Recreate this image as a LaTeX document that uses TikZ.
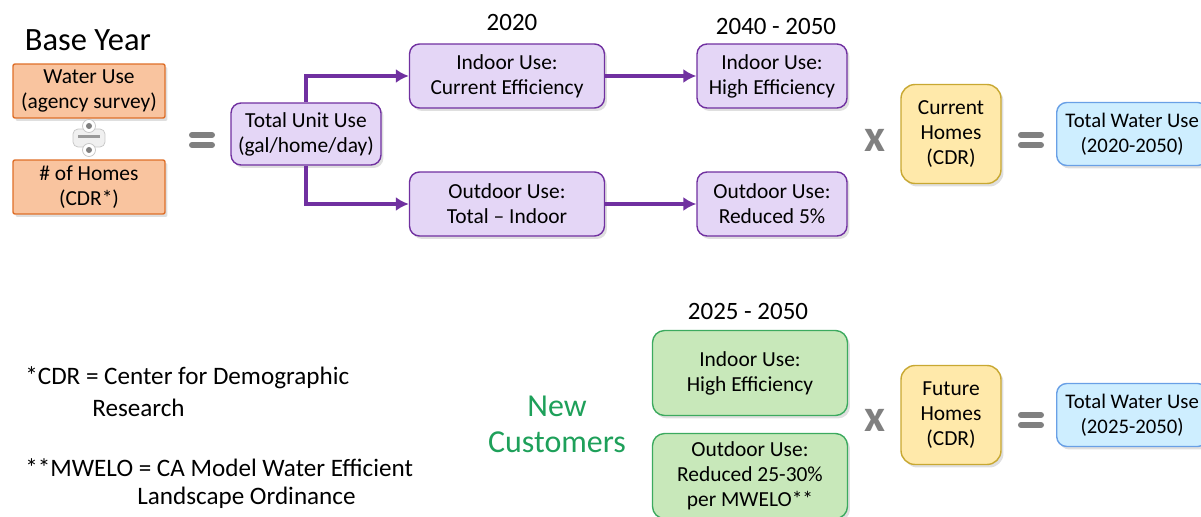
\documentclass[tikz,border=0pt]{standalone}
\usepackage{fontspec}
\setmainfont{Carlito}
\usetikzlibrary{arrows.meta,shadows}
\definecolor{orangefill}{RGB}{249,196,159}
\definecolor{orangeline}{RGB}{222,110,40}
\definecolor{purplefill}{RGB}{228,214,246}
\definecolor{purpleline}{RGB}{112,48,160}
\definecolor{yellowfill}{RGB}{255,233,170}
\definecolor{yellowline}{RGB}{200,168,50}
\definecolor{bluefill}{RGB}{206,238,255}
\definecolor{blueline}{RGB}{105,160,230}
\definecolor{greenfill}{RGB}{200,232,186}
\definecolor{greenline}{RGB}{60,170,95}
\definecolor{greentext}{RGB}{30,160,90}
\definecolor{signgray}{RGB}{128,128,128}
\begin{document}
\begin{tikzpicture}
    [
    x=0.02cm, y=-0.02cm,
    boxtext/.style={align=center,font=\fontsize{12.2}{14.2}\selectfont,inner sep=1pt,
      drop shadow={opacity=0.25,shadow xshift=0.5mm,shadow yshift=-0.6mm}},
    basebox/.style={boxtext,draw=orangeline,fill=orangefill,thick,rounded corners=0.4mm,
      minimum width=30.4mm,minimum height=10.8mm},
    usebox/.style={boxtext,draw=purpleline,fill=purplefill,thick,rounded corners=2mm,
      minimum height=12.8mm},
    homebox/.style={boxtext,draw=yellowline,fill=yellowfill,thick,rounded corners=2.8mm,
      minimum width=20mm,minimum height=19.8mm},
    totalbox/.style={boxtext,font=\fontsize{11.8}{14.2}\selectfont,anchor=west,
      draw=blueline,fill=bluefill,thick,rounded corners=2mm,
      inner xsep=1mm,minimum width=30.2mm,minimum height=12.6mm},
    newbox/.style={boxtext,draw=greenline,fill=greenfill,thick,rounded corners=2.4mm,
      minimum width=39mm,minimum height=17mm},
    yearlabel/.style={font=\fontsize{14.2}{16}\selectfont,inner sep=0pt},
    note/.style={anchor=west,font=\fontsize{14.3}{16}\selectfont,inner sep=0pt},
    times/.style={text=signgray,font=\fontsize{26}{26}\selectfont\bfseries,inner sep=0pt},
    flow/.style={draw=purpleline,line width=0.65mm,-{Latex[length=2.6mm,width=2.8mm]}}
    ]
    \useasboundingbox (0,0) rectangle (1201,517);
    % base year
    \node (base) at (88,40) [font=\fontsize{18.5}{20}\selectfont,inner sep=0pt] {Base Year};
    \node (wateruse) at (89,91) [basebox] {Water Use\\(agency survey)};
    \node (homes) at (89,187) [basebox] {\# of Homes\\(CDR*)};
    \node (div) at (89,138) [draw=gray!45,fill=gray!12,rounded corners=1mm,
      minimum width=6.4mm,minimum height=3.6mm,inner sep=0pt] {};
    \fill [signgray!80] ([xshift=-2.2mm]div.center) rectangle ([xshift=2.2mm,yshift=0.5mm]div.center);
    \filldraw [draw=gray!45,fill=white] (89,126) circle (1.3mm);
    \filldraw [draw=gray!45,fill=white] (89,150) circle (1.3mm);
    \fill [signgray] (89,126) circle (0.6mm);
    \fill [signgray] (89,150) circle (0.6mm);
    % equals signs
    \foreach \ex/\ey in {202/140, 1031/140, 1031/420}
      \draw [signgray,line width=1.2mm,line cap=round]
        (\ex-10,\ey-5) -- (\ex+10,\ey-5) (\ex-10,\ey+5) -- (\ex+10,\ey+5);
    % current customers
    \node (unituse) at (306,134) [usebox,minimum width=30mm,minimum height=12.4mm] {Total Unit Use\\(gal/home/day)};
    \node (indoor) at (507,76) [usebox,minimum width=39mm] {Indoor Use:\\Current Efficiency};
    \node (outdoor) at (507,204) [usebox,minimum width=39mm] {Outdoor Use:\\Total -- Indoor};
    \node (indoorhe) at (772,76) [usebox,minimum width=30mm] {Indoor Use:\\High Efficiency};
    \node (outdoorred) at (772,204) [usebox,minimum width=30mm] {Outdoor Use:\\Reduced 5\%};
    \node (y2020) at (512,22) [yearlabel] {2020};
    \node (y2040) at (776,26) [yearlabel] {2040 - 2050};
    \draw [flow] (unituse.north) |- (indoor.west);
    \draw [flow] (unituse.south) |- (outdoor.west);
    \draw [flow] (indoor) to (indoorhe);
    \draw [flow] (outdoor) to (outdoorred);
    \node (x1) at (875,140) [times] {x};
    \node (curhomes) at (951,134) [homebox] {Current\\Homes\\(CDR)};
    \node (total1) at (1056,134) [totalbox] {Total Water Use\\(2020-2050)};
    % new customers
    \node (newcust) at (557,424) [align=center,text=greentext,font=\fontsize{18.2}{20.5}\selectfont,inner sep=0pt] {New\\Customers};
    \node (y2025) at (748,311) [yearlabel] {2025 - 2050};
    \node (newindoor) at (750,373) [newbox] {Indoor Use:\\High Efficiency};
    \node (newoutdoor) at (750,476) [newbox] {Outdoor Use:\\Reduced 25-30\%\\per MWELO**};
    \node (x2) at (875,420) [times] {x};
    \node (futhomes) at (951,415) [homebox] {Future\\Homes\\(CDR)};
    \node (total2) at (1056,415) [totalbox] {Total Water Use\\(2025-2050)};
    % footnotes
    \node (cdr1) at (25,378) [note] {*CDR = Center for Demographic};
    \node (cdr2) at (92,408) [note] {Research};
    \node (mwelo1) at (25,468) [note] {**MWELO = CA Model Water Efficient};
    \node (mwelo2) at (137,498) [note] {Landscape Ordinance};
\end{tikzpicture}
\end{document}
